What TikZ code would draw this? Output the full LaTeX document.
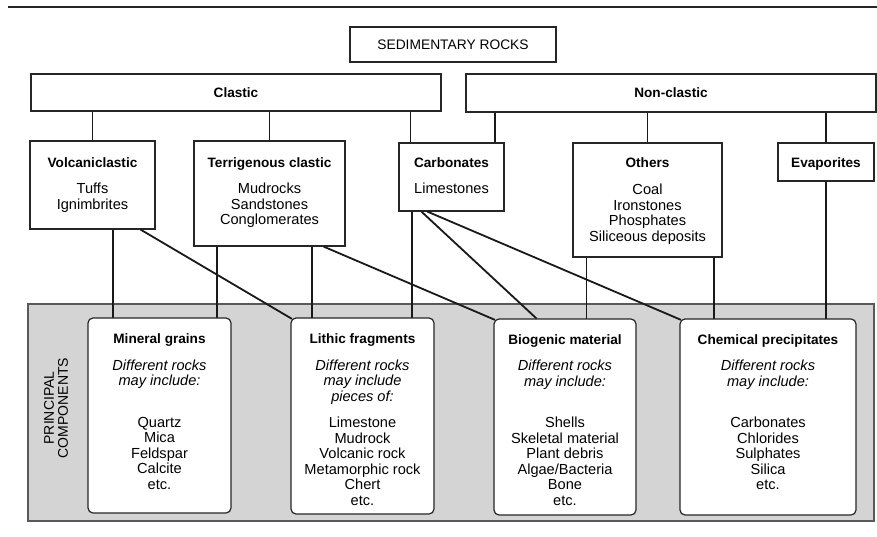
\documentclass[tikz,border=0pt]{standalone}
\usepackage{fontspec}
\setmainfont{Liberation Sans}
\newcommand\sst{\rule{0pt}{11pt}}
\begin{document}
\begin{tikzpicture}[x=1pt,y=-1pt,
  box/.style={draw=black!85, line width=1.2pt, inner sep=0pt, fill=white},
  rbox/.style={box, rounded corners=5pt},
  panelbox/.style={draw=black!65, line width=1.1pt, fill=black!17, inner sep=0pt},
  conn/.style={line width=1.8pt, draw=black!90},
  ttl/.style={font=\fontsize{13.6}{15.5}\selectfont\bfseries, anchor=base, inner sep=0pt},
  caps/.style={font=\fontsize{13.8}{15.5}\selectfont, anchor=base, inner sep=0pt},
  lst/.style={font=\fontsize{14.6}{15.5}\selectfont, align=center, anchor=north, inner sep=0pt},
  itl/.style={font=\fontsize{14.6}{15.4}\selectfont\itshape, align=center, anchor=north, inner sep=0pt},
  side/.style={font=\fontsize{14}{14}\selectfont, align=center, rotate=90, inner sep=0pt}
]
\useasboundingbox (0,0) rectangle (877,537);
\draw[line width=1.4pt, black!85] (8,7) -- (877,7);

% top boxes
\node[box, minimum width=206pt, minimum height=35pt] (sed) at (453,44.5) {};
\node[caps] (sedt) at (453,49.5) {SEDIMENTARY ROCKS};
\node[box, minimum width=410pt, minimum height=37pt] (clastic) at (236,92.5) {};
\node[ttl] (clastict) at (236,97.3) {Clastic};
\node[box, minimum width=410pt, minimum height=38pt] (nonclastic) at (671,93) {};
\node[ttl] (nonclastict) at (671,97.3) {Non-clastic};

\node[box, minimum width=125pt, minimum height=88pt] (volc) at (92.5,185) {};
\node[ttl] (volct) at (92.5,167.5) {Volcaniclastic};
\node[lst] (volcl) at (92.5,182.5) {\sst Tuffs\\Ignimbrites};

\node[box, minimum width=151pt, minimum height=105pt] (terr) at (269.5,193.5) {};
\node[ttl] (terrt) at (269.5,167.5) {Terrigenous clastic};
\node[lst] (terrl) at (269.5,182.5) {\sst Mudrocks\\Sandstones\\Conglomerates};

\node[box, minimum width=105pt, minimum height=68pt] (carb) at (451.5,177) {};
\node[ttl] (carbt) at (451.5,167.5) {Carbonates};
\node[lst] (carbl) at (451.5,182.5) {\sst Limestones};

\node[box, minimum width=149pt, minimum height=114pt] (others) at (647.5,200) {};
\node[ttl] (otherst) at (647.5,167.5) {Others};
\node[lst] (othersl) at (647.5,183.5) {\sst Coal\\Ironstones\\Phosphates\\Siliceous deposits};

\node[box, minimum width=96pt, minimum height=38pt] (evap) at (826,162) {};
\node[ttl] (evapt) at (826,167.5) {Evaporites};

% panel
\node[panelbox, minimum width=846pt, minimum height=217pt] (panel) at (451,412.5) {};
\node[side] (panelt) at (56,408) {PRINCIPAL\\COMPONENTS};

% connectors top
\draw[conn] (clastic.south -| volc.north) -- (volc.north);
\draw[conn] (clastic.south -| terr.north) -- (terr.north);
\draw[conn] ([xshift=12pt]carb.north west |- clastic.south) -- ([xshift=12pt]carb.north west);
\draw[conn] ([xshift=-10pt]carb.north east |- nonclastic.south) -- ([xshift=-10pt]carb.north east);
\draw[conn] (nonclastic.south -| others.north) -- (others.north);
\draw[conn] (nonclastic.south -| evap.north) -- (evap.north);

% bottom boxes placeholders for anchors
\path (159.5,415.5) node[minimum width=143pt, minimum height=195pt, inner sep=0pt] (mineral) {};
\path (362.5,416) node[minimum width=143pt, minimum height=196pt, inner sep=0pt] (lithic) {};
\path (565,417) node[minimum width=142pt, minimum height=196pt, inner sep=0pt] (bio) {};
\path (768,417) node[minimum width=176pt, minimum height=196pt, inner sep=0pt] (chem) {};

% connectors bottom
\draw[conn] ([xshift=25pt]mineral.north west |- volc.south) -- ([xshift=25pt]mineral.north west);
\draw[conn] ([xshift=-15pt]volc.south east) -- ([xshift=1pt,yshift=-1pt]lithic.north west);
\draw[conn] ([xshift=-14pt]mineral.north east |- terr.south) -- ([xshift=-14pt]mineral.north east);
\draw[conn] ([xshift=21pt]lithic.north west |- terr.south) -- ([xshift=21pt]lithic.north west);
\draw[conn] ([xshift=-22pt]terr.south east) -- ([xshift=1pt,yshift=-1pt]bio.north west);
\draw[conn] ([xshift=-22pt]lithic.north east |- carb.south) -- ([xshift=-22pt]lithic.north east);
\draw[conn] ([xshift=23pt]carb.south west) -- ([xshift=43pt]bio.north west);
\draw[conn] ([xshift=29pt]carb.south west) -- ([xshift=1pt,yshift=-1pt]chem.north west);
\draw[conn] ([xshift=14pt]others.south west) -- ([xshift=14pt]others.south west |- bio.north);
\draw[conn] ([xshift=-9pt]others.south east) -- ([xshift=-9pt]others.south east |- chem.north);
\draw[conn] (evap.south) -- (evap.south |- chem.north);

% bottom boxes drawn
\node[rbox, minimum width=143pt, minimum height=195pt] (mineralb) at (mineral) {};
\node[rbox, minimum width=143pt, minimum height=196pt] (lithicb) at (lithic) {};
\node[rbox, minimum width=142pt, minimum height=196pt] (biob) at (bio) {};
\node[rbox, minimum width=176pt, minimum height=196pt] (chemb) at (chem) {};

\node[ttl] (mineralt) at (159.5,343.3) {Mineral grains};
\node[itl] (minerali) at (159.5,359) {\sst Different rocks\\may include:};
\node[lst] (minerall) at (159.5,416) {\sst Quartz\\Mica\\Feldspar\\Calcite\\etc.};

\node[ttl] (lithict) at (362.5,343.3) {Lithic fragments};
\node[itl] (lithici) at (362.5,359) {\sst Different rocks\\may include\\pieces of:};
\node[lst] (lithicl) at (362.5,416.5) {\sst Limestone\\Mudrock\\Volcanic rock\\Metamorphic rock\\Chert\\etc.};

\node[ttl] (biot) at (565,344) {Biogenic material};
\node[itl] (bioi) at (565,359.5) {\sst Different rocks\\may include:};
\node[lst] (biol) at (565,416.5) {\sst Shells\\Skeletal material\\Plant debris\\Algae/Bacteria\\Bone\\etc.};

\node[ttl] (chemt) at (768,344) {Chemical precipitates};
\node[itl] (chemi) at (768,359.5) {\sst Different rocks\\may include:};
\node[lst] (cheml) at (768,416.5) {\sst Carbonates\\Chlorides\\Sulphates\\Silica\\etc.};
\end{tikzpicture}
\end{document}
